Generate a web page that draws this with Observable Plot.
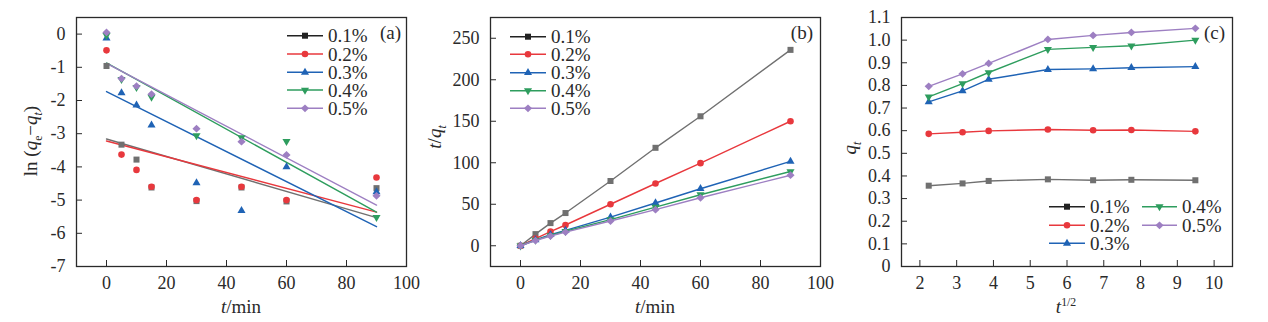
<!DOCTYPE html>
<html><head><meta charset="utf-8">
<script src="https://cdn.jsdelivr.net/npm/d3@7"></script>
<script src="https://cdn.jsdelivr.net/npm/@observablehq/plot@0.6"></script>
<style>
body{margin:0;background:#fff;}
#wrap{position:relative;width:1268px;height:322px;overflow:hidden;}
.panel{position:absolute;top:0;}
svg{overflow:visible;}
</style></head><body><div id="wrap"></div>
<script>
// ---------- data ----------
const SERIES = ["0.1%", "0.2%", "0.3%", "0.4%", "0.5%"];
const T_MIN = [0, 5, 10, 15, 30, 45, 60, 90];

// (a) ln(qe - qt)
const A_01 = [-0.96, -3.33, -3.78, -4.62, -5.03, -4.62, -5.04, -4.64];
const A_02 = [-0.49, -3.63, -4.09, -4.60, -5.00, -4.60, -5.00, -4.32];
const A_03 = [-0.12, -1.77, -2.14, -2.74, -4.48, -5.32, -4.00, -4.75];
const A_04 = [-0.04, -1.36, -1.60, -1.90, -3.06, -3.12, -3.23, -5.52];
const A_05 = [0.05, -1.34, -1.57, -1.81, -2.85, -3.24, -3.64, -4.87];
const FIT_T = [0, 90];
const FIT_START = [-3.16, -3.22, -1.73, -0.87, -0.88];
const FIT_END = [-5.53, -5.36, -5.80, -5.36, -5.15];

// (b) t/qt
const B_01 = [0, 14, 27.3, 39.4, 78, 118, 156, 236];
const B_02 = [0, 8.6, 17, 25, 50, 75, 99.5, 150];
const B_03 = [0, 7, 13.3, 18.5, 34.5, 51.5, 68.7, 101.7];
const B_04 = [0, 6.7, 12.4, 17.5, 31.5, 46.5, 61.5, 89.5];
const B_05 = [0, 6.3, 11.7, 16.5, 29.8, 43.5, 57.8, 85];

// (c) qt vs t^1/2
const C_X = [2.24, 3.16, 3.87, 5.48, 6.71, 7.75, 9.49];
const C_01 = [0.357, 0.367, 0.378, 0.385, 0.381, 0.383, 0.381];
const C_02 = [0.586, 0.593, 0.599, 0.605, 0.602, 0.603, 0.597];
const C_03 = [0.727, 0.776, 0.827, 0.870, 0.873, 0.878, 0.883];
const C_04 = [0.749, 0.808, 0.857, 0.959, 0.968, 0.975, 1.000];
const C_05 = [0.796, 0.851, 0.897, 1.003, 1.021, 1.034, 1.052];

// ticks
const TICKS_T = [0, 20, 40, 60, 80, 100];
const TICKS_A_Y = [-7, -6, -5, -4, -3, -2, -1, 0];
const TICKS_B_Y = [0, 50, 100, 150, 200, 250];
const TICKS_C_X = [2, 3, 4, 5, 6, 7, 8, 9, 10];
const TICKS_C_Y = [0, 0.1, 0.2, 0.3, 0.4, 0.5, 0.6, 0.7, 0.8, 0.9, 1.0, 1.1];

// ---------- styles ----------
const COLORS = ["#707070", "#e8383d", "#1f63b5", "#2e9d5e", "#9d7fc2"];
const LEGEND_COLORS = ["#222222", "#e8383d", "#1f63b5", "#2e9d5e", "#9d7fc2"];
const triangleDown = {draw(ctx, size) {
  const y = -Math.sqrt(size / (Math.sqrt(3) * 3));
  ctx.moveTo(0, -y * 2); ctx.lineTo(-Math.sqrt(3) * y, y); ctx.lineTo(Math.sqrt(3) * y, y); ctx.closePath();
}};
const diamond = {draw(ctx, size) {
  const r = Math.sqrt(size / 2);
  ctx.moveTo(0, -r); ctx.lineTo(r * 1.05, 0); ctx.lineTo(0, r); ctx.lineTo(-r * 1.05, 0); ctx.closePath();
}};
const SYMBOLS = [d3.symbolSquare, d3.symbolCircle, d3.symbolTriangle, triangleDown, diamond];
const RADII = [3.4, 3.3, 3.0, 3.0, 3.1];
const FONT = "'Liberation Serif', 'Times New Roman', serif";
const INK = "#2a2a2a";

function rowsOf(xs, arrays) {
  const rows = [];
  arrays.forEach((arr, k) => arr.forEach((v, j) => rows.push({x: xs[j], y: v, k})));
  return rows;
}

function axes(xTicks, yTicks, yFmt) {
  return [
    Plot.axisX(xTicks, {tickSize: -6, tickPadding: 16, tickFormat: d => String(d), stroke: INK, fill: INK}),
    Plot.axisY(yTicks, {tickSize: -6, tickPadding: 17, tickFormat: yFmt || (d => String(d)), stroke: INK, fill: INK}),
    Plot.frame({stroke: INK, strokeWidth: 1.3})
  ];
}

function addText(svg, x, y, parts, {size = 19, anchor = "middle", rotate = false} = {}) {
  const t = svg.append("text")
    .attr("transform", rotate ? `translate(${x},${y}) rotate(-90)` : `translate(${x},${y})`)
    .style("text-anchor", anchor)
    .style("font-family", FONT)
    .style("font-size", size + "px")
    .attr("fill", INK);
  let shift = 0;
  parts.forEach(p => {
    const ts = t.append("tspan").text(p.t);
    if (p.i) ts.style("font-style", "italic");
    let target = 0;
    if (p.sub) { ts.style("font-size", (size * 0.62) + "px"); target = size * 0.28; }
    if (p.sup) { ts.style("font-size", (size * 0.62) + "px"); target = -size * 0.38; }
    if (target !== shift) { ts.attr("dy", target - shift); shift = target; }
  });
  return t;
}

function addLegend(svg, entries) {
  entries.forEach(e => {
    const g = svg.append("g");
    g.append("line").attr("x1", e.x1).attr("x2", e.x2).attr("y1", e.y).attr("y2", e.y)
      .attr("stroke", LEGEND_COLORS[e.k]).attr("stroke-width", 1.4);
    g.append("path").attr("d", d3.symbol(SYMBOLS[e.k], RADII[e.k] * RADII[e.k] * Math.PI)())
      .attr("transform", `translate(${(e.x1 + e.x2) / 2},${e.y})`).attr("fill", LEGEND_COLORS[e.k]);
    g.append("text").attr("x", e.x2 + 5).attr("y", e.y).attr("dy", "0.35em")
      .style("text-anchor", "start")
      .style("font-family", FONT).style("font-size", "19px").attr("fill", INK).text(SERIES[e.k]);
  });
}

function place(el, left) {
  const d = document.createElement("div");
  d.className = "panel"; d.style.left = left + "px";
  d.appendChild(el);
  document.getElementById("wrap").appendChild(d);
  return d3.select(el);
}

const baseStyle = {fontFamily: FONT, fontSize: "18px", color: INK, background: "transparent", overflow: "visible"};

// ---------- panel (a) ----------
{
  const rows = rowsOf(T_MIN, [A_01, A_02, A_03, A_04, A_05]);
  const fits = [];
  FIT_START.forEach((s, k) => { fits.push({x: FIT_T[0], y: s, k}); fits.push({x: FIT_T[1], y: FIT_END[k], k}); });
  const marks = [...axes(TICKS_T, TICKS_A_Y)];
  for (let k = 0; k < 5; k++) marks.push(Plot.line(fits.filter(d => d.k === k), {x: "x", y: "y", stroke: COLORS[k], strokeWidth: 1.4}));
  for (let k = 0; k < 5; k++) marks.push(Plot.dot(rows.filter(d => d.k === k), {x: "x", y: "y", fill: COLORS[k], symbol: SYMBOLS[k], r: RADII[k]}));
  const p = Plot.plot({
    width: 420, height: 322, marginLeft: 76, marginRight: 14, marginTop: 17, marginBottom: 56,
    x: {domain: [-10, 100], label: null}, y: {domain: [-7, 0.5], label: null},
    style: baseStyle, marks
  });
  const svg = place(p, 0);
  addText(svg, 241, 313, [{t: "t", i: true}, {t: "/min"}]);
  addText(svg, 37, 141, [{t: "ln ("}, {t: "q", i: true}, {t: "e", sub: true}, {t: "−"}, {t: "q", i: true}, {t: "t", i: true, sub: true}, {t: ")"}], {rotate: true});
  addText(svg, 401, 39, [{t: "(a)"}], {anchor: "end"});
  const ys = [35.7, 54, 72.3, 90, 108.3];
  addLegend(svg, ys.map((y, k) => ({k, y, x1: 287, x2: 323})));
}

// ---------- panel (b) ----------
{
  const rows = rowsOf(T_MIN, [B_01, B_02, B_03, B_04, B_05]);
  const marks = [...axes(TICKS_T, TICKS_B_Y)];
  for (let k = 0; k < 5; k++) {
    const d = rows.filter(r => r.k === k);
    marks.push(Plot.line(d, {x: "x", y: "y", stroke: COLORS[k], strokeWidth: 1.4}));
    marks.push(Plot.dot(d, {x: "x", y: "y", fill: COLORS[k], symbol: SYMBOLS[k], r: RADII[k]}));
  }
  const p = Plot.plot({
    width: 420, height: 322, marginLeft: 70, marginRight: 20, marginTop: 17, marginBottom: 56,
    x: {domain: [-10, 100], label: null}, y: {domain: [-25, 275], label: null},
    style: baseStyle, marks
  });
  const svg = place(p, 420);
  addText(svg, 235, 313, [{t: "t", i: true}, {t: "/min"}]);
  addText(svg, 21, 137, [{t: "t", i: true}, {t: "/"}, {t: "q", i: true}, {t: "t", i: true, sub: true}], {rotate: true});
  addText(svg, 393, 39, [{t: "(b)"}], {anchor: "end"});
  const ys = [36.7, 54.3, 72.7, 90.7, 108.3];
  addLegend(svg, ys.map((y, k) => ({k, y, x1: 90, x2: 126})));
}

// ---------- panel (c) ----------
{
  const rows = rowsOf(C_X, [C_01, C_02, C_03, C_04, C_05]);
  const marks = [...axes(TICKS_C_X, TICKS_C_Y, d => d === 0 ? "0" : d.toFixed(1))];
  for (let k = 0; k < 5; k++) {
    const d = rows.filter(r => r.k === k);
    marks.push(Plot.line(d, {x: "x", y: "y", stroke: COLORS[k], strokeWidth: 1.4}));
    marks.push(Plot.dot(d, {x: "x", y: "y", fill: COLORS[k], symbol: SYMBOLS[k], r: RADII[k]}));
  }
  const p = Plot.plot({
    width: 428, height: 322, marginLeft: 61, marginRight: 36, marginTop: 17, marginBottom: 56,
    x: {domain: [1.5, 10.5], label: null}, y: {domain: [0, 1.1], label: null},
    style: baseStyle, marks
  });
  const svg = place(p, 840);
  addText(svg, 226, 313, [{t: "t", i: true}, {t: "1/2", sup: true}]);
  addText(svg, 16, 148, [{t: "q", i: true}, {t: "t", i: true, sub: true}], {rotate: true});
  addText(svg, 385, 39, [{t: "(c)"}], {anchor: "end"});
  addLegend(svg, [
    {k: 0, y: 206.7, x1: 209, x2: 245},
    {k: 1, y: 225.3, x1: 209, x2: 245},
    {k: 2, y: 243.3, x1: 209, x2: 245},
    {k: 3, y: 206.7, x1: 302, x2: 337},
    {k: 4, y: 225.3, x1: 302, x2: 337}
  ]);
}
</script></body></html>
